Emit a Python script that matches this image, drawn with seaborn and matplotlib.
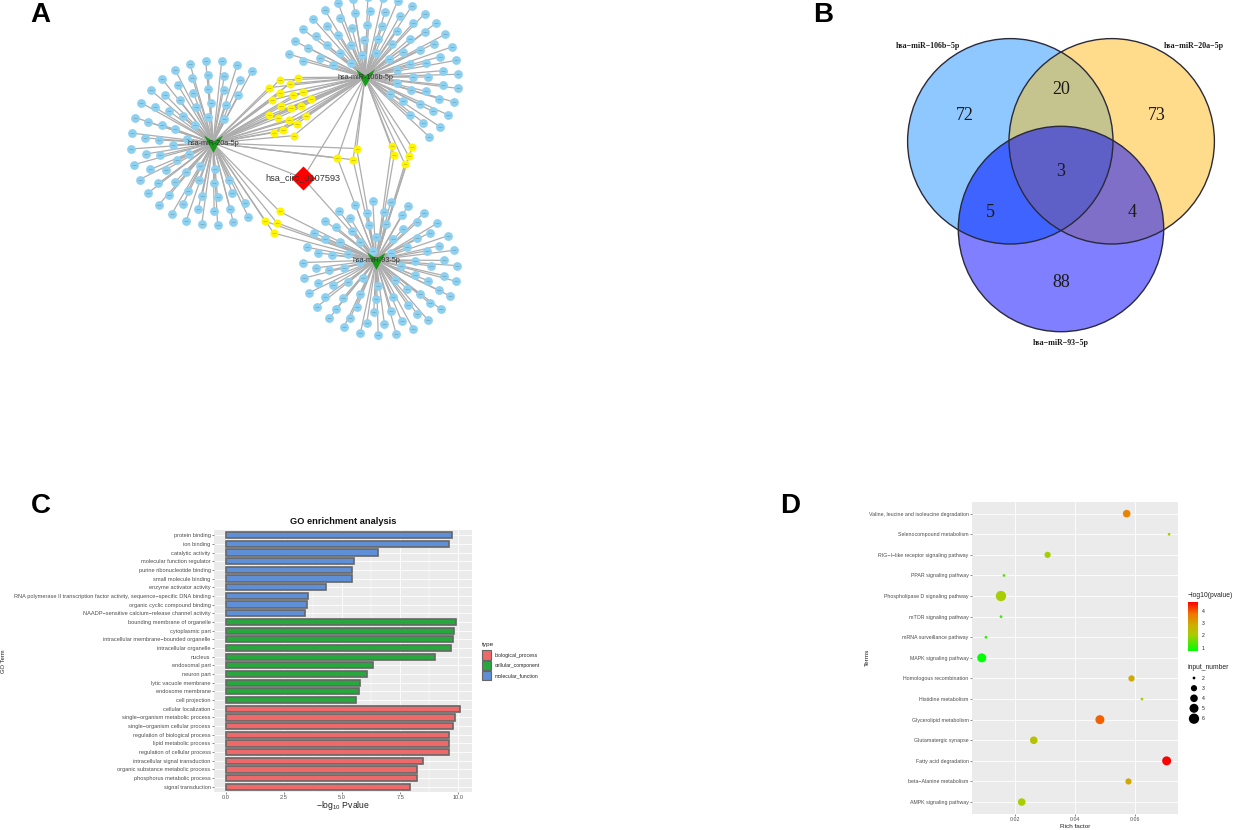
# go_network_panels.py

import numpy as np
import pandas as pd
import matplotlib
matplotlib.use('Agg')
import matplotlib.pyplot as plt
import seaborn as sns
from matplotlib.colors import LinearSegmentedColormap, Normalize
from matplotlib.patches import Circle, Polygon, Rectangle
from matplotlib.path import Path

# ===============================
# Data
# ===============================
go_terms = [
    'protein binding', 'ion binding', 'catalytic activity', 'molecular function regulator',
    'purine ribonucleotide binding', 'small molecule binding', 'enzyme activator activity',
    'RNA polymerase II transcription factor activity, sequence\u2212specific DNA binding',
    'organic cyclic compound binding', 'NAADP\u2212sensitive calcium\u2212release channel activity',
    'bounding membrane of organelle', 'cytoplasmic part', 'intracellular membrane\u2212bounded organelle',
    'intracellular organelle', 'nucleus', 'endosomal part', 'neuron part', 'lytic vacuole membrane',
    'endosome membrane', 'cell projection', 'cellular localization',
    'single\u2212organism metabolic process', 'single\u2212organism cellular process',
    'regulation of biological process', 'lipid metabolic process', 'regulation of cellular process',
    'intracellular signal transduction', 'organic substance metabolic process',
    'phosphorus metabolic process', 'signal transduction',
]
go_values = [9.71, 9.61, 6.53, 5.52, 5.43, 5.43, 4.30, 3.52, 3.50, 3.42,
             9.88, 9.83, 9.78, 9.68, 9.00, 6.31, 6.06, 5.75, 5.72, 5.60,
             10.08, 9.85, 9.76, 9.59, 9.58, 9.58, 8.46, 8.22, 8.20, 7.90]
go_types = ['molecular_function'] * 10 + ['cellular_component'] * 10 + ['biological_process'] * 10
type_names = ['biological_process', 'cellular_component', 'molecular_function']
type_colors = ['#F0696A', '#27A83C', '#5F8FD6']

kegg_terms = [
    'Valine, leucine and isoleucine degradation', 'Selenocompound metabolism',
    'RIG\u2212I\u2212like receptor signaling pathway', 'PPAR signaling pathway',
    'Phospholipase D signaling pathway', 'mTOR signaling pathway', 'mRNA surveillance pathway',
    'MAPK signaling pathway', 'Homologous recombination', 'Histidine metabolism',
    'Glycerolipid metabolism', 'Glutamatergic synapse', 'Fatty acid degradation',
    'beta\u2212Alanine metabolism', 'AMPK signaling pathway',
]
rich_factor = [0.0573, 0.0714, 0.0310, 0.0165, 0.0155, 0.0155, 0.0105, 0.0091,
               0.0589, 0.0624, 0.0484, 0.0264, 0.0706, 0.0579, 0.0224]
log_pvalue = [3.5, 2.0, 2.0, 1.4, 2.0, 1.1, 1.0, 0.7, 2.9, 2.0, 3.9, 2.3, 4.7, 2.9, 2.0]
input_number = [4, 2, 3, 2, 6, 2, 2, 5, 3, 2, 5, 4, 5, 3, 4]
input_levels = [2, 3, 4, 5, 6]

mirnas = ['hsa-miR-20a-5p', 'hsa-miR-106b-5p', 'hsa-miR-93-5p']
circ_name = 'hsa_circ_0107593'
venn_names = ['hsa\u2212miR\u2212106b\u22125p', 'hsa\u2212miR\u221220a\u22125p', 'hsa\u2212miR\u221293\u22125p']
venn_counts = {'106b': 72, '20a': 73, '93': 88, '106b_20a': 20, '106b_93': 5, '20a_93': 4, 'all': 3}

# ===============================
# Figure setup (overlay axes is in image pixels)
# ===============================
W, H = 1233, 830
sns.set_theme(style='darkgrid', rc={
    'axes.facecolor': '#EBEBEB', 'grid.color': 'white', 'axes.edgecolor': 'none',
    'xtick.bottom': True, 'ytick.left': True, 'xtick.color': '#333333', 'ytick.color': '#333333',
    'xtick.major.size': 1.5, 'ytick.major.size': 1.5, 'xtick.major.width': 0.4, 'ytick.major.width': 0.4,
    'axes.linewidth': 0,
})
plt.rcParams['font.family'] = ['Liberation Sans', 'DejaVu Sans']
plt.rcParams['mathtext.default'] = 'regular'

fig = plt.figure(figsize=(W / 100, H / 100), dpi=100, facecolor='white')


def px_axes(x0, y0, x1, y1):
    return fig.add_axes([x0 / W, 1 - y1 / H, (x1 - x0) / W, (y1 - y0) / H])


ov = fig.add_axes([0, 0, 1, 1], facecolor='none')

# ===============================
# Panel A: network
# ===============================
HUB_POS = {'hsa-miR-20a-5p': (213, 143), 'hsa-miR-106b-5p': (365, 77), 'hsa-miR-93-5p': (376, 260)}
CIRC_POS = (303, 178)


def ring_layout(center, n, radii, start, end, stretch=1.0):
    radii = np.array(radii, dtype=float)
    counts = np.round(n * radii / radii.sum()).astype(int)
    counts[-1] += n - counts.sum()
    xs, ys = [], []
    span = end - start
    for i, (r, c) in enumerate(zip(radii, counts)):
        step = span / c
        ang = np.radians(start + step * (np.arange(c) + (0.5 if i % 2 else 0.15)))
        xs.extend(center[0] + stretch * r * np.cos(ang))
        ys.extend(center[1] - r * np.sin(ang))
    return np.array(xs), np.array(ys)


def sunflower(center, n, rx, ry):
    i = np.arange(n)
    r = np.sqrt((i + 0.5) / n)
    ang = i * 2.39996 + 0.6
    return center[0] + rx * r * np.cos(ang), center[1] + ry * r * np.sin(ang)


blue_groups = [
    ('hsa-miR-20a-5p', ring_layout((213, 143), venn_counts['20a'], [26, 40, 54, 68, 82], 60, 305)),
    ('hsa-miR-106b-5p', ring_layout((372, 77), venn_counts['106b'], [24, 38, 52, 66, 80], -50, 172, stretch=1.08)),
    ('hsa-miR-93-5p', ring_layout((380, 268), venn_counts['93'], [18, 31, 44, 56, 67], 0, 360, stretch=1.15)),
]
yellow_groups = [
    (mirnas[:2], sunflower((288, 105), venn_counts['106b_20a'], 24, 35)),
    (mirnas, sunflower((348, 157), venn_counts['all'], 15, 12)),
    (mirnas[1:], sunflower((404, 154), venn_counts['106b_93'], 18, 12)),
    ([mirnas[0], mirnas[2]], sunflower((273, 220), venn_counts['20a_93'], 13, 14)),
]

edge_style = dict(color='#ADADAD', lw=0.9, zorder=1, solid_capstyle='round')
for hub, (xs, ys) in blue_groups:
    for x, y in zip(xs, ys):
        ov.plot([HUB_POS[hub][0], x], [HUB_POS[hub][1], y], **edge_style)
for hubs, (xs, ys) in yellow_groups:
    for hub in hubs:
        for x, y in zip(xs, ys):
            ov.plot([HUB_POS[hub][0], x], [HUB_POS[hub][1], y], **edge_style)
for hub in mirnas:
    ov.plot([HUB_POS[hub][0], CIRC_POS[0]], [HUB_POS[hub][1], CIRC_POS[1]], **edge_style)

blue_x = np.concatenate([g[1][0] for g in blue_groups])
blue_y = np.concatenate([g[1][1] for g in blue_groups])
yellow_x = np.concatenate([g[1][0] for g in yellow_groups])
yellow_y = np.concatenate([g[1][1] for g in yellow_groups])

sns.scatterplot(x=blue_x, y=blue_y, color='#8DD0F0', s=40, linewidth=0, ax=ov, zorder=2, legend=False)
sns.scatterplot(x=yellow_x, y=yellow_y, color='#FFF500', s=34, linewidth=0, ax=ov, zorder=2, legend=False)
# gene names are too small to read in the source, keep them as faint dashes
ov.scatter(np.r_[blue_x, yellow_x], np.r_[blue_y, yellow_y], marker='_', s=12, linewidths=0.5,
           color='#666666', alpha=0.45, zorder=3)

hub_marker = Path([(-1, 0.85), (0, 0.2), (1, 0.85), (0, -1), (-1, 0.85)], closed=True)
hub_x = [HUB_POS[m][0] for m in mirnas]
hub_y = [HUB_POS[m][1] for m in mirnas]
sns.scatterplot(x=hub_x, y=hub_y, color='#179A17', s=185, marker=hub_marker, linewidth=0,
                ax=ov, zorder=4, legend=False)
sns.scatterplot(x=[CIRC_POS[0]], y=[CIRC_POS[1]], color='#FF0000', s=150, marker='D', linewidth=0,
                ax=ov, zorder=4, legend=False)
for m in mirnas:
    ov.text(HUB_POS[m][0], HUB_POS[m][1] + 0.5, m, fontsize=5.2, color='#333333',
            ha='center', va='center', zorder=5)
ov.text(CIRC_POS[0], CIRC_POS[1], circ_name, fontsize=6.6, color='#333333', ha='center', va='center', zorder=5)

# ===============================
# Panel B: Venn
# ===============================
VENN_R = 102.7
VENN_C = [(1010.3, 141.3), (1111.7, 141.3), (1061, 229)]
venn_L = Circle(VENN_C[0], VENN_R, fc='#8FC7FF', ec='none', zorder=2)
venn_R = Circle(VENN_C[1], VENN_R, fc='#FFDC8C', ec='none', zorder=2.1)
ov.add_patch(venn_L)
ov.add_patch(venn_R)
lr = Circle(VENN_C[1], VENN_R, fc='#C6C48E', ec='none', zorder=2.2)
ov.add_patch(lr)
lr.set_clip_path(venn_L)
venn_B = Circle(VENN_C[2], VENN_R, fc='#7F7FFF', ec='none', zorder=2.3)
ov.add_patch(venn_B)
lb = Circle(VENN_C[2], VENN_R, fc='#3F63FF', ec='none', zorder=2.4)
ov.add_patch(lb)
lb.set_clip_path(venn_L)
rb = Circle(VENN_C[2], VENN_R, fc='#7F6FC8', ec='none', zorder=2.4)
ov.add_patch(rb)
rb.set_clip_path(venn_R)

# triple overlap outline from points on each circle lying inside the other two
theta = np.linspace(0, 2 * np.pi, 720, endpoint=False)
pts = []
for i, c in enumerate(VENN_C):
    p = np.c_[c[0] + VENN_R * np.cos(theta), c[1] + VENN_R * np.sin(theta)]
    for j, o in enumerate(VENN_C):
        if j != i:
            p = p[np.hypot(p[:, 0] - o[0], p[:, 1] - o[1]) <= VENN_R]
    pts.append(p)
pts = np.vstack(pts)
mid = pts.mean(axis=0)
pts = pts[np.argsort(np.arctan2(pts[:, 1] - mid[1], pts[:, 0] - mid[0]))]
ov.add_patch(Polygon(pts, closed=True, fc='#5F5FC8', ec='none', zorder=2.5))
for c in VENN_C:
    ov.add_patch(Circle(c, VENN_R, fc='none', ec='#2A2A3A', lw=1.0, zorder=2.6))

venn_font = dict(family='Liberation Serif', fontsize=13, color='#1A1A1A', ha='center', va='center', zorder=3)
ov.text(965, 116, str(venn_counts['106b']), **venn_font)
ov.text(1157, 116, str(venn_counts['20a']), **venn_font)
ov.text(1061, 282, str(venn_counts['93']), **venn_font)
ov.text(1061, 89, str(venn_counts['106b_20a']), **venn_font)
ov.text(990, 212, str(venn_counts['106b_93']), **venn_font)
ov.text(1132, 212, str(venn_counts['20a_93']), **venn_font)
ov.text(1061, 171, str(venn_counts['all']), **venn_font)
name_font = dict(family='Liberation Serif', fontweight='bold', fontsize=5.7, color='#1A1A1A',
                 ha='center', va='center')
ov.text(928, 46, venn_names[0], **name_font)
ov.text(1194, 46, venn_names[1], **name_font)
ov.text(1061, 343, venn_names[2], **name_font)

# ===============================
# Panel C: GO bars
# ===============================
go_df = pd.DataFrame({'term': go_terms, 'value': go_values, 'type': go_types})
ax_c = px_axes(214, 530, 472, 792)
sns.barplot(data=go_df, x='value', y='term', hue='type', order=go_terms, hue_order=type_names,
            palette=type_colors, dodge=False, width=0.72, saturation=1, edgecolor='#666666',
            linewidth=1.2, legend=False, ax=ax_c)
ax_c.set_xlim(-0.504, 10.584)
ax_c.set_ylim(29.6, -0.6)
ax_c.set_xticks([0, 2.5, 5, 7.5, 10])
ax_c.set_xticklabels(['0.0', '2.5', '5.0', '7.5', '10.0'])
ax_c.set_xticks([1.25, 3.75, 6.25, 8.75], minor=True)
ax_c.grid(True, which='major', color='white', lw=0.6)
ax_c.grid(True, which='minor', axis='x', color='white', lw=0.3)
ax_c.tick_params(axis='both', which='major', labelsize=4.1, pad=1, labelcolor='#4D4D4D')
ax_c.tick_params(axis='x', which='minor', length=0)
ax_c.set_xlabel('')
ax_c.set_ylabel('')
ov.text(343, 521, 'GO enrichment analysis', fontsize=6.7, fontweight='bold', color='#111111',
        ha='center', va='center')
ov.text(343, 805, '\u2212log$_{10}$ Pvalue', fontsize=6.2, color='#222222', ha='center', va='center')
ov.text(4, 661, 'GO Term', fontsize=4.2, rotation=90, color='#222222', ha='center', va='center')

ov.text(482, 644, 'type', fontsize=4.6, color='#222222', ha='left', va='center')
for name, col, y in zip(type_names, type_colors, [655, 665.3, 675.6]):
    ov.add_patch(Rectangle((482, y - 4.6), 8.5, 9.2, fc=col, ec='#666666', lw=0.8))
    ov.text(494.5, y, name, fontsize=3.7, color='#222222', ha='left', va='center')

# ===============================
# Panel D: KEGG dots
# ===============================
rg_cmap = LinearSegmentedColormap.from_list(
    'rg', [(0, '#00FF00'), (0.33, '#AACC00'), (0.5, '#C8B400'), (0.75, '#F07800'), (1, '#FF0000')])
rg_norm = Normalize(0.7, 4.7)
dot_sizes = dict(zip(input_levels, [4, 20, 30, 42, 55]))

kegg_df = pd.DataFrame({'term': kegg_terms, 'rich': rich_factor, 'logp': log_pvalue, 'n': input_number})
ax_d = px_axes(972, 501.7, 1178, 814)
sns.scatterplot(data=kegg_df, x='rich', y='term', hue='logp', palette=rg_cmap, hue_norm=rg_norm,
                size='n', sizes=dot_sizes, linewidth=0, legend=False, ax=ax_d)
ax_d.set_xlim(0.00586, 0.07437)
ax_d.set_ylim(14.58, -0.58)
ax_d.set_xticks([0.02, 0.04, 0.06])
ax_d.set_xticklabels(['0.02', '0.04', '0.06'])
ax_d.grid(True, color='white', lw=0.6)
ax_d.tick_params(axis='y', labelsize=3.75, pad=1, labelcolor='#4D4D4D')
ax_d.tick_params(axis='x', labelsize=3.75, pad=1, labelcolor='#4D4D4D')
ax_d.set_xlabel('')
ax_d.set_ylabel('')
ov.text(1075, 826, 'Rich factor', fontsize=4.6, color='#222222', ha='center', va='center')
ov.text(867, 657, 'Terms', fontsize=4.6, rotation=90, color='#222222', ha='center', va='center')

# colour bar legend
ov.text(1188, 595, '\u2212log10(pvalue)', fontsize=4.9, color='#222222', ha='left', va='center')
ax_cb = px_axes(1188, 601.7, 1198, 651.3)
ax_cb.imshow(np.linspace(4.75, 0.7, 128)[:, None], cmap=rg_cmap, norm=rg_norm, aspect='auto',
             extent=[0, 1, 0.7, 4.75])
ax_cb.grid(False)
ax_cb.set_xticks([])
ax_cb.yaxis.tick_right()
ax_cb.set_yticks([1, 2, 3, 4])
ax_cb.tick_params(axis='y', labelsize=3.7, length=0, pad=2.5, labelcolor='#222222')

# size legend
ov.text(1188, 667, 'input_number', fontsize=4.9, color='#222222', ha='left', va='center')
size_y = np.array([678, 688.2, 698.3, 708.3, 718.7])
sns.scatterplot(x=[1194] * 5, y=size_y, color='black', size=input_levels, sizes=dot_sizes,
                linewidth=0, legend=False, ax=ov)
for lev, y in zip(input_levels, size_y):
    ov.text(1202, y, str(lev), fontsize=3.7, color='#222222', ha='left', va='center')

# ===============================
# Panel letters
# ===============================
for letter, x, y in [('A', 40, 15), ('B', 823, 15), ('C', 41, 506), ('D', 790, 506)]:
    ov.text(x, y, letter, fontsize=20, fontweight='bold', color='black', ha='center', va='center')

ov.set_xlim(0, W)
ov.set_ylim(H, 0)
ov.axis('off')

fig.savefig('out.png', dpi=100)
print('saved out.png')
